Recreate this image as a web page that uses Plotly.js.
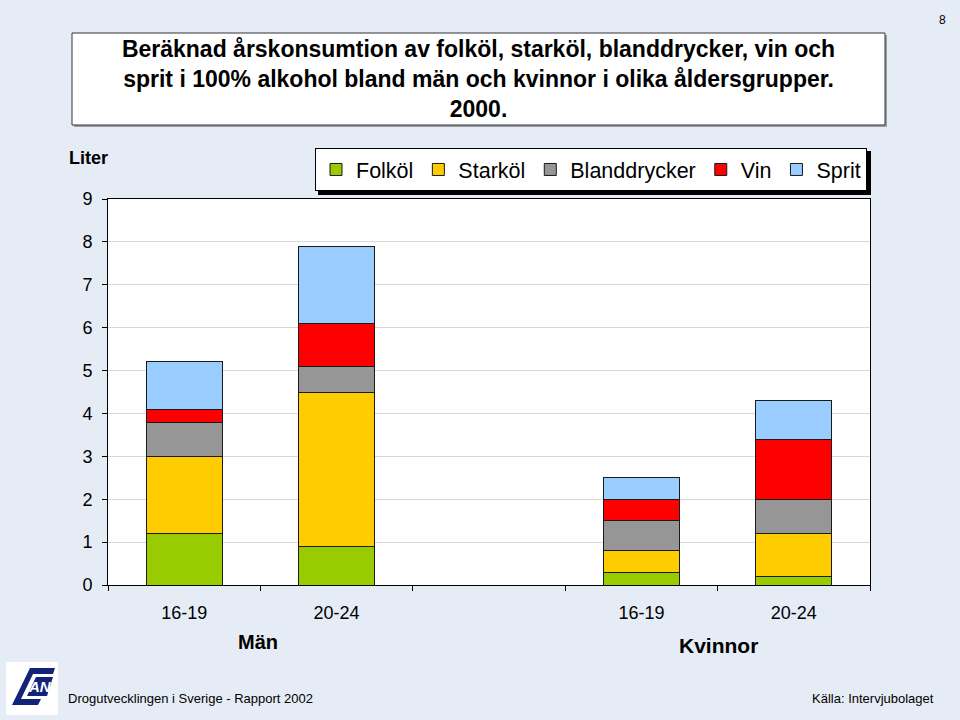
<!DOCTYPE html>
<html>
<head>
<meta charset="utf-8">
<script src="https://cdn.plot.ly/plotly-3.0.1.min.js"></script>
<style>
html,body{margin:0;padding:0;background:#E6ECF5;}
#chart{width:960px;height:720px;}
</style>
</head>
<body>
<div id="chart"></div>
<script>
// ---- data ----
const categories = ['Män 16-19', 'Män 20-24', 'gap', 'Kvinnor 16-19', 'Kvinnor 20-24'];
const ageLabels = ['16-19', '20-24', '', '16-19', '20-24'];
const seriesNames = ['Folköl', 'Starköl', 'Blanddrycker', 'Vin', 'Sprit'];
const folkol = [1.2, 0.9, null, 0.3, 0.2];
const starkol = [1.8, 3.6, null, 0.5, 1.0];
const blanddrycker = [0.8, 0.6, null, 0.7, 0.8];
const vin = [0.3, 1.0, null, 0.5, 1.4];
const sprit = [1.1, 1.8, null, 0.5, 0.9];
const yTicks = [0, 1, 2, 3, 4, 5, 6, 7, 8, 9];

// ---- styles ----
const colors = ['#99CC00', '#FFCC00', '#969696', '#FF0000', '#99CCFF'];
const FONT = 'Arial, "Liberation Sans", sans-serif';
const NARROW = '"Liberation Sans Narrow", "Arial Narrow", Arial, sans-serif';

// plot area in pixels
const L = 108, R = 870, T = 199, B = 585;
const px = x => (x - L) / (R - L);
const py = y => (B - y) / (B - T);

const values = [folkol, starkol, blanddrycker, vin, sprit];
const traces = values.map((v, i) => ({
  type: 'bar',
  name: seriesNames[i],
  x: categories,
  y: v,
  marker: { color: colors[i], line: { color: '#1a1a1a', width: 1 } },
  hoverinfo: 'name+y'
}));

const shapes = [
  // title box shadow + box
  { type: 'rect', xref: 'paper', yref: 'paper', x0: px(74), x1: px(887), y0: py(35), y1: py(127),
    fillcolor: '#9aa0aa', line: { width: 0 }, layer: 'below' },
  { type: 'rect', xref: 'paper', yref: 'paper', x0: px(72), x1: px(885), y0: py(33), y1: py(125),
    fillcolor: '#FFFFFF', line: { color: '#333333', width: 1 }, layer: 'below' },
  // legend shadow
  { type: 'rect', xref: 'paper', yref: 'paper', x0: px(318), x1: px(871), y0: py(151), y1: py(195),
    fillcolor: '#000000', line: { width: 0 }, layer: 'below' },
  // logo background
  { type: 'rect', xref: 'paper', yref: 'paper', x0: px(6), x1: px(58), y0: py(662), y1: py(715),
    fillcolor: '#FFFFFF', line: { width: 0 }, layer: 'below' },
  // logo "C" shape
  { type: 'path', xref: 'paper', yref: 'paper',
    path: `M ${px(30)} ${py(668)} L ${px(55)} ${py(668)} L ${px(53)} ${py(674)} L ${px(33)} ${py(674)} L ${px(21)} ${py(699)} L ${px(41)} ${py(699)} L ${px(38)} ${py(705)} L ${px(12)} ${py(705)} Z`,
    fillcolor: '#14237A', line: { width: 0 }, layer: 'above' },
  // logo block for AN
  { type: 'path', xref: 'paper', yref: 'paper',
    path: `M ${px(36)} ${py(677)} L ${px(53)} ${py(677)} L ${px(47)} ${py(696)} L ${px(27)} ${py(696)} Z`,
    fillcolor: '#14237A', line: { width: 0 }, layer: 'above' }
];

const annotations = [
  { text: '<b>Liter</b>', xref: 'paper', yref: 'paper', x: px(88), y: py(158), showarrow: false,
    font: { family: FONT, size: 18, color: '#000' }, xanchor: 'center', yanchor: 'middle' },
  { text: '<b>Män</b>', xref: 'paper', yref: 'paper', x: px(258), y: py(642), showarrow: false,
    font: { family: FONT, size: 20, color: '#000' }, xanchor: 'center', yanchor: 'middle' },
  { text: '<b>Kvinnor</b>', xref: 'paper', yref: 'paper', x: px(718), y: py(645), showarrow: false,
    font: { family: FONT, size: 21, color: '#000' }, xanchor: 'center', yanchor: 'middle' },
  { text: 'Drogutvecklingen i Sverige - Rapport 2002', xref: 'paper', yref: 'paper', x: px(66), y: py(698), showarrow: false,
    font: { family: NARROW, size: 13, color: '#000' }, xanchor: 'left', yanchor: 'middle' },
  { text: 'Källa: Intervjubolaget', xref: 'paper', yref: 'paper', x: px(936), y: py(698), showarrow: false,
    font: { family: NARROW, size: 13, color: '#000' }, xanchor: 'right', yanchor: 'middle' },
  { text: '8', xref: 'paper', yref: 'paper', x: px(942), y: py(20), showarrow: false,
    font: { family: FONT, size: 12, color: '#000' }, xanchor: 'center', yanchor: 'middle' },
  { text: '<b><i>AN</i></b>', xref: 'paper', yref: 'paper', x: px(40), y: py(686.5), showarrow: false,
    font: { family: FONT, size: 15, color: '#FFFFFF' }, xanchor: 'center', yanchor: 'middle' }
];

const layout = {
  width: 960, height: 720,
  paper_bgcolor: '#E6ECF5',
  plot_bgcolor: '#FFFFFF',
  margin: { l: L, r: 960 - R, t: T, b: 720 - B, pad: 0 },
  barmode: 'stack',
  bargap: 0.5,
  showlegend: true,
  title: {
    text: '<b>Beräknad årskonsumtion av folköl, starköl, blanddrycker, vin och<br>sprit i 100% alkohol bland män och kvinnor i olika åldersgrupper.<br>2000.</b>',
    font: { family: FONT, size: 23, color: '#000' },
    xref: 'container', yref: 'container', x: 478.5 / 960, xanchor: 'center',
    y: 1 - 57 / 720, yanchor: 'middle'
  },
  legend: {
    orientation: 'h',
    xref: 'paper', yref: 'paper',
    x: px(315), y: py(148), xanchor: 'left', yanchor: 'top',
    bgcolor: '#FFFFFF', bordercolor: '#000000', borderwidth: 1,
    font: { family: FONT, size: 21.5, color: '#000' },
    traceorder: 'normal'
  },
  xaxis: {
    type: 'category',
    categoryorder: 'array', categoryarray: categories,
    tickmode: 'array', tickvals: categories, ticktext: ageLabels,
    tickson: 'boundaries',
    ticks: 'outside', ticklen: 5, tickcolor: '#000',
    showgrid: false,
    showline: true, linecolor: '#000', linewidth: 1, mirror: true,
    tickfont: { family: FONT, size: 18, color: '#000' },
    ticklabelstandoff: 11,
    fixedrange: true
  },
  yaxis: {
    range: [0, 9],
    tickmode: 'array', tickvals: yTicks,
    ticks: 'outside', ticklen: 5, tickcolor: '#000',
    showgrid: true, gridcolor: '#D9D9D9', gridwidth: 1,
    showline: true, linecolor: '#000', linewidth: 1, mirror: true,
    zeroline: false,
    tickfont: { family: FONT, size: 18, color: '#000' },
    ticklabelstandoff: 6,
    fixedrange: true
  },
  shapes: shapes,
  annotations: annotations
};

Plotly.newPlot('chart', traces, layout, { displayModeBar: false, staticPlot: true });
</script>
</body>
</html>
